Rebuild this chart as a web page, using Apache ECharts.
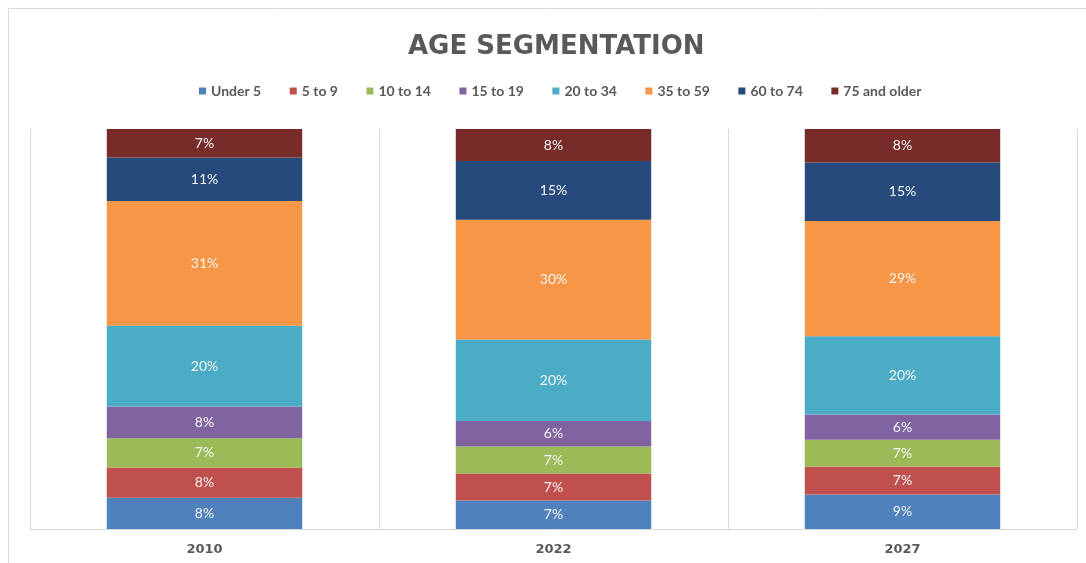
<!DOCTYPE html>
<html>
<head>
<meta charset="utf-8">
<script src="https://cdn.jsdelivr.net/npm/echarts@6/dist/echarts.min.js"></script>
<style>
	html, body { margin: 0; padding: 0; background: #fff; }
	#main { width: 1086px; height: 563px; }
</style>
</head>
<body>
<div id="main"></div>
<script>
// categories and age groups
var years = ['2010', '2022', '2027'];
var groups = ['Under 5', '5 to 9', '10 to 14', '15 to 19', '20 to 34', '35 to 59', '60 to 74', '75 and older'];

// share of population (%) per year
var under5 = [7.8, 7.1, 8.6];
var age5to9 = [7.6, 6.8, 7.0];
var age10to14 = [7.3, 6.7, 6.7];
var age15to19 = [7.9, 6.4, 6.3];
var age20to34 = [20.2, 20.4, 19.6];
var age35to59 = [31.2, 29.9, 28.8];
var age60to74 = [10.9, 14.7, 14.6];
var age75plus = [7.1, 8.0, 8.4];

var values = [under5, age5to9, age10to14, age15to19, age20to34, age35to59, age60to74, age75plus];
var colors = ['#4f81bd', '#c0504d', '#9bbb59', '#8064a2', '#4bacc6', '#f79646', '#254a7b', '#772c2a'];

var myChart = echarts.init(document.getElementById('main'));

var series = groups.map(function(name, i) {
	return {
		name: name,
		type: 'bar',
		stack: 'total',
		barWidth: '56%',
		itemStyle: { color: colors[i] },
		label: {
			show: true,
			position: 'inside',
			color: '#f4f4f4',
			fontFamily: 'Lato',
			fontSize: 14,
			formatter: function(p) { return Math.round(p.value) + '%'; }
		},
		data: values[i]
	};
});

var option = {
	animation: false,
	title: {
		text: 'AGE SEGMENTATION',
		left: 403,
		top: 29,
		textStyle: {
			color: '#595959',
			fontFamily: 'DejaVu Sans',
			fontWeight: 'bold',
			fontSize: 26
		}
	},
	legend: {
		data: groups,
		top: 79,
		left: 194,
		itemWidth: 7,
		itemHeight: 7,
		itemGap: 28.5,
		icon: 'rect',
		textStyle: { color: '#595959', fontFamily: 'Lato', fontWeight: 'bold', fontSize: 14 }
	},
	graphic: [{
		type: 'rect',
		shape: { x: 8.5, y: 8.5, width: 1200, height: 700 },
		style: { fill: 'none', stroke: '#d9d9d9', lineWidth: 1 },
		silent: true
	}],
	grid: { left: 30, right: 9, top: 129, bottom: 34 },
	xAxis: {
		type: 'category',
		data: years,
		axisTick: { show: false },
		axisLine: { lineStyle: { color: '#d9d9d9' } },
		splitLine: { show: true, lineStyle: { color: '#d9d9d9' } },
		axisLabel: {
			color: '#595959',
			fontFamily: 'DejaVu Sans',
			fontWeight: 'bold',
			fontSize: 13,
			margin: 14
		}
	},
	yAxis: {
		type: 'value',
		min: 0,
		max: 100,
		show: false,
		splitLine: { show: false }
	},
	series: series
};

myChart.setOption(option);
</script>
</body>
</html>
